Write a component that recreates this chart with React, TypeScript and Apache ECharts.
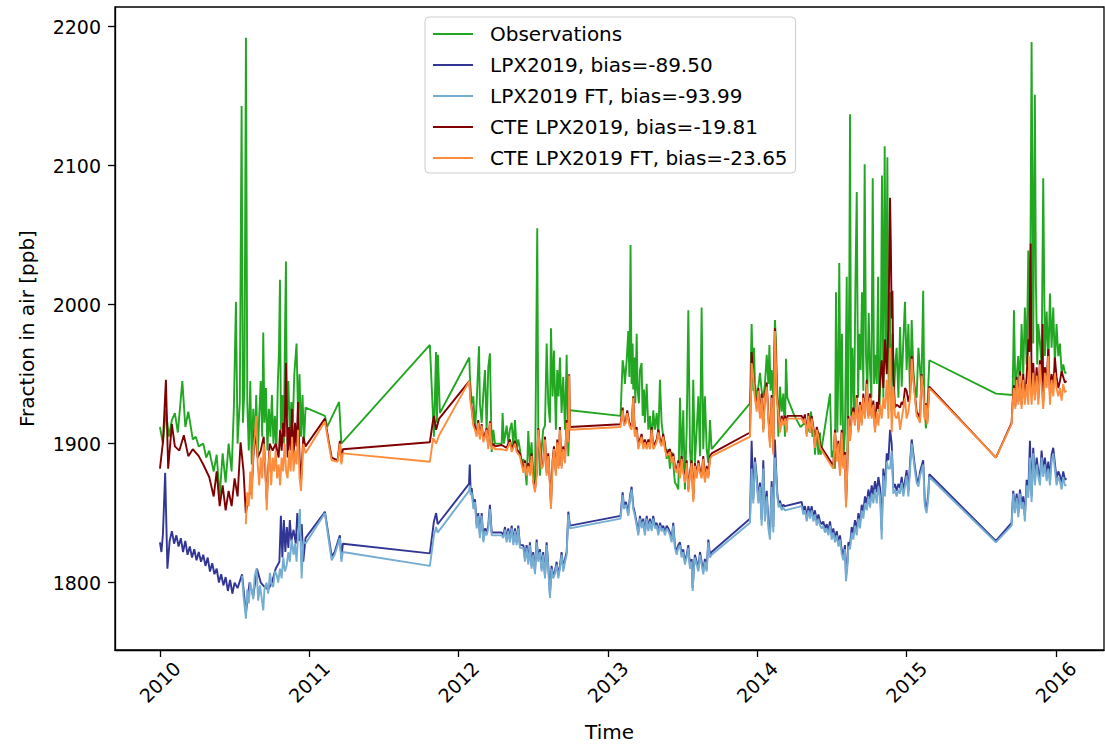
import React, { useEffect, useRef } from "react";
import * as echarts from "echarts";

const yearTicks = [2010, 2011, 2012, 2013, 2014, 2015, 2016];
const valueTicks = [1800, 1900, 2000, 2100, 2200];
const seriesNames = [
  "Observations",
  "LPX2019, bias=-89.50",
  "LPX2019 FT, bias=-93.99",
  "CTE LPX2019, bias=-19.81",
  "CTE LPX2019 FT, bias=-23.65",
];

const obsData = [
  [2010.0,1912],[2010.02,1900],[2010.04,1924],[2010.06,1905],[2010.08,1917],[2010.1,1922],[2010.12,1908],[2010.15,1945],[2010.17,1912],[2010.19,1923],[2010.22,1903],[2010.24,1905],[2010.26,1898],[2010.29,1900],[2010.31,1890],[2010.33,1895],[2010.36,1880],[2010.38,1892],[2010.4,1862],[2010.42,1893],[2010.44,1872],[2010.46,1900],[2010.48,1880],[2010.495,1925],[2010.509,2002],[2010.52,1900],[2010.535,1930],[2010.547,2143],[2010.556,1915],[2010.566,1940],[2010.576,2192],[2010.585,1930],[2010.595,1895],[2010.605,1945],[2010.615,1885],[2010.625,1925],[2010.635,1900],[2010.645,1935],[2010.655,1890],[2010.665,1920],[2010.675,1945],[2010.685,1905],[2010.692,1980],[2010.7,1915],[2010.71,1940],[2010.72,1895],[2010.73,1925],[2010.74,1905],[2010.75,1935],[2010.76,1900],[2010.77,1920],[2010.78,1895],[2010.79,1945],[2010.797,1965],[2010.804,2018],[2010.81,1910],[2010.82,1935],[2010.83,1900],[2010.837,1975],[2010.844,2031],[2010.85,1920],[2010.86,1945],[2010.87,1905],[2010.88,1930],[2010.89,1915],[2010.9,1950],[2010.915,1972],[2010.925,1920],[2010.935,1950],[2010.945,1905],[2010.955,1935],[2010.965,1900],[2010.975,1926],
  [2011.105,1920],[2011.12,1912],[2011.2,1930],[2011.215,1900],
  [2011.808,1971],[2011.835,1905],[2011.849,1966],[2011.855,1915],[2011.862,1964],[2011.875,1922],
  [2012.072,1962],[2012.076,1948],[2012.088,1929],[2012.099,1934],[2012.11,1910],[2012.121,1929],[2012.137,1970],[2012.143,1929],[2012.155,1915],[2012.166,1936],[2012.177,1953],[2012.188,1910],[2012.199,1955],[2012.21,1965],[2012.222,1894],[2012.233,1910],[2012.244,1900],[2012.289,1900],[2012.295,1922],[2012.304,1900],[2012.322,1913],[2012.333,1901],[2012.344,1910],[2012.356,1915],[2012.367,1898],[2012.378,1917],[2012.389,1896],[2012.4,1903],[2012.411,1896],[2012.422,1886],[2012.434,1889],[2012.445,1884],[2012.456,1870],[2012.467,1909],[2012.478,1886],[2012.489,1901],[2012.5,1879],[2012.512,1870],[2012.527,2055],[2012.534,1910],[2012.545,1877],[2012.556,1896],[2012.567,1910],[2012.579,1913],[2012.59,1972],[2012.601,1929],[2012.612,1915],[2012.619,1983],[2012.63,1934],[2012.639,1967],[2012.652,1910],[2012.661,1953],[2012.67,1934],[2012.679,1962],[2012.69,1922],[2012.701,1948],[2012.713,1910],[2012.724,1964],[2012.735,1891],[2012.746,1924],
  [2013.085,1920],[2013.099,1960],[2013.108,1953],[2013.114,1943],[2013.126,1960],[2013.137,1981],[2013.144,1948],[2013.152,2043],[2013.159,1943],[2013.166,1972],[2013.17,1939],[2013.177,1962],[2013.184,1929],[2013.193,1979],[2013.199,1939],[2013.208,1929],[2013.215,1953],[2013.226,1958],[2013.233,1920],[2013.242,1939],[2013.248,1915],[2013.26,1943],[2013.271,1910],[2013.282,1920],[2013.293,1901],[2013.304,1924],[2013.315,1910],[2013.327,1922],[2013.338,1905],[2013.349,1946],[2013.36,1915],[2013.371,1905],[2013.382,1901],[2013.394,1889],[2013.405,1896],[2013.416,1882],[2013.427,1894],[2013.438,1886],[2013.449,1872],[2013.461,1870],[2013.472,1867],[2013.483,1933],[2013.494,1886],[2013.505,1924],[2013.516,1867],[2013.528,1910],[2013.539,1996],[2013.55,1896],[2013.561,1877],[2013.572,1946],[2013.583,1886],[2013.595,1910],[2013.606,1934],[2013.617,1891],[2013.628,1998],[2013.639,1896],[2013.65,1934],[2013.662,1896],[2013.673,1886],[2013.684,1917],[2013.695,1896],
  [2013.952,1929],[2013.963,1986],[2013.974,1938],[2013.979,1969],[2013.985,1943],[2013.997,1933],[2014.008,1941],[2014.019,1951],[2014.03,1938],[2014.041,1933],[2014.052,1943],[2014.064,1964],[2014.075,1943],[2014.082,1971],[2014.09,1938],[2014.097,1953],[2014.108,1933],[2014.119,1989],[2014.126,1974],[2014.131,1951],[2014.142,1905],[2014.153,1941],[2014.164,1923],[2014.175,1936],[2014.186,1905],[2014.193,1961],[2014.202,1933],[2014.25,1920],[2014.29,1912],[2014.32,1915],[2014.354,1908],[2014.361,1923],[2014.37,1905],[2014.381,1910],[2014.387,1892],[2014.399,1910],[2014.41,1892],[2014.421,1908],[2014.425,1892],
  [2014.488,1936],[2014.499,1890],[2014.51,1895],[2014.521,1882],[2014.528,2009],[2014.537,1908],[2014.544,1956],[2014.55,2030],[2014.559,1913],[2014.568,1979],[2014.577,1887],[2014.588,1908],[2014.6,2020],[2014.606,1892],[2014.617,2014],[2014.622,2137],[2014.629,1920],[2014.638,1969],[2014.649,1918],[2014.658,2014],[2014.667,2081],[2014.676,1933],[2014.684,1979],[2014.693,1953],[2014.702,2009],[2014.711,1938],[2014.72,2101],[2014.729,1964],[2014.738,1938],[2014.747,1994],[2014.756,1953],[2014.765,1933],[2014.774,2091],[2014.783,1943],[2014.792,1964],[2014.801,1943],[2014.81,2020],[2014.818,1923],[2014.827,1948],[2014.836,2093],[2014.845,1933],[2014.854,2114],[2014.863,1958],[2014.872,2106],[2014.881,1933],[2014.89,2009],[2014.899,1923],[2014.908,1979],[2014.917,1938],[2014.926,1958],[2014.934,1969],[2014.946,1933],[2014.957,1984],[2014.968,1941],[2014.979,1974],[2014.99,2002],[2015.001,1953],[2015.013,1986],[2015.024,1933],[2015.035,1989],[2015.046,1953],[2015.057,1938],[2015.068,1933],[2015.08,1969],[2015.091,1953],[2015.1,1940],[2015.112,2010],[2015.12,1930],[2015.13,1911],[2015.14,1925],[2015.153,1960],
  [2015.599,1936],[2015.711,1935],[2015.72,1996],[2015.729,1940],[2015.738,1949],[2015.749,1963],[2015.76,1940],[2015.771,1986],[2015.782,1949],[2015.793,1998],[2015.805,1957],[2015.816,2039],[2015.827,1966],[2015.838,2189],[2015.849,1972],[2015.86,2151],[2015.867,2015],[2015.876,1957],[2015.883,1986],[2015.894,1972],[2015.905,1957],[2015.916,2091],[2015.927,1963],[2015.939,1995],[2015.95,1957],[2015.961,2008],[2015.972,1969],[2015.983,1998],[2015.994,1957],[2016.005,1986],[2016.017,1963],[2016.028,1972],[2016.039,1951],[2016.05,1957],[2016.061,1951],[2016.072,1951],
];

const lpxData = [
  [2010.0,1829],[2010.01,1822],[2010.02,1835],[2010.035,1879],[2010.05,1810],[2010.065,1830],[2010.08,1837],[2010.095,1828],[2010.11,1834],[2010.125,1826],[2010.14,1832],[2010.155,1822],[2010.17,1830],[2010.185,1820],[2010.2,1826],[2010.215,1818],[2010.23,1824],[2010.245,1816],[2010.26,1822],[2010.275,1815],[2010.29,1820],[2010.305,1812],[2010.32,1818],[2010.335,1808],[2010.35,1814],[2010.365,1806],[2010.38,1810],[2010.395,1800],[2010.41,1806],[2010.425,1798],[2010.44,1804],[2010.455,1794],[2010.47,1802],[2010.485,1792],[2010.5,1800],[2010.52,1796],[2010.55,1806],[2010.576,1778],[2010.6,1800],[2010.625,1790],[2010.65,1810],[2010.675,1800],[2010.7,1797],[2010.725,1795],[2010.75,1800],[2010.775,1810],[2010.8,1815],[2010.81,1848],[2010.82,1818],[2010.83,1845],[2010.84,1822],[2010.85,1840],[2010.86,1825],[2010.87,1845],[2010.88,1830],[2010.895,1838],[2010.91,1828],[2010.92,1850],[2010.935,1830],[2010.95,1842],[2010.96,1815],[2010.975,1832],
  [2011.105,1851],[2011.15,1819],[2011.17,1822],[2011.205,1834],[2011.215,1817],[2011.225,1828],[2011.808,1821],[2011.835,1844],[2011.85,1850],[2011.86,1842],[2012.07,1871],[2012.075,1885],
  [2012.081,1866],[2012.088,1868],[2012.099,1856],[2012.11,1860],[2012.121,1842],[2012.132,1850],[2012.143,1835],[2012.155,1850],[2012.166,1831],[2012.177,1839],[2012.188,1836],[2012.199,1841],[2012.21,1856],[2012.222,1836],[2012.233,1836],[2012.289,1836],[2012.3,1834],[2012.311,1840],[2012.322,1831],[2012.333,1839],[2012.344,1831],[2012.356,1841],[2012.367,1829],[2012.378,1839],[2012.389,1829],[2012.4,1841],[2012.411,1827],[2012.434,1827],[2012.445,1817],[2012.456,1827],[2012.467,1815],[2012.478,1829],[2012.489,1812],[2012.5,1822],[2012.512,1808],[2012.523,1831],[2012.534,1817],[2012.545,1824],[2012.556,1810],[2012.567,1822],[2012.579,1805],[2012.59,1829],[2012.601,1812],[2012.612,1792],[2012.623,1812],[2012.634,1805],[2012.645,1808],[2012.657,1815],[2012.668,1805],[2012.679,1812],[2012.69,1822],[2012.701,1810],[2012.713,1817],[2012.724,1822],[2012.735,1851],[2012.746,1841],
  [2013.085,1848],[2013.099,1865],[2013.108,1855],[2013.121,1858],[2013.137,1850],[2013.148,1862],[2013.159,1869],[2013.17,1855],[2013.181,1850],[2013.193,1843],[2013.204,1836],[2013.215,1848],[2013.226,1841],[2013.237,1846],[2013.248,1836],[2013.26,1848],[2013.271,1839],[2013.282,1846],[2013.293,1839],[2013.304,1848],[2013.315,1841],[2013.327,1843],[2013.338,1836],[2013.349,1843],[2013.36,1839],[2013.371,1841],[2013.382,1836],[2013.394,1841],[2013.405,1839],[2013.416,1836],[2013.427,1831],[2013.438,1843],[2013.449,1827],[2013.461,1822],[2013.472,1827],[2013.483,1829],[2013.494,1820],[2013.505,1824],[2013.516,1815],[2013.528,1820],[2013.539,1827],[2013.55,1812],[2013.561,1817],[2013.568,1796],[2013.577,1812],[2013.583,1820],[2013.595,1815],[2013.606,1810],[2013.617,1822],[2013.628,1815],[2013.639,1808],[2013.65,1817],[2013.662,1810],[2013.673,1831],[2013.684,1820],[2013.695,1822],[2013.952,1846],
  [2013.963,1902],[2013.974,1860],[2013.985,1890],[2013.997,1876],[2014.008,1860],[2014.019,1872],[2014.03,1845],[2014.041,1888],[2014.052,1848],[2014.064,1866],[2014.075,1843],[2014.086,1835],[2014.097,1873],[2014.108,1840],[2014.119,1903],[2014.126,1884],[2014.135,1864],[2014.144,1856],[2014.153,1859],[2014.164,1854],[2014.175,1856],[2014.186,1855],[2014.298,1858],[2014.309,1852],[2014.32,1855],[2014.332,1847],[2014.343,1855],[2014.354,1849],[2014.365,1855],[2014.376,1847],[2014.387,1852],[2014.399,1844],[2014.41,1849],[2014.421,1844],[2014.432,1842],[2014.443,1844],[2014.454,1839],[2014.466,1842],[2014.477,1837],[2014.488,1844],[2014.499,1834],[2014.51,1839],[2014.521,1832],[2014.533,1837],[2014.544,1829],[2014.555,1834],[2014.566,1824],[2014.577,1819],[2014.588,1827],[2014.595,1805],[2014.604,1814],[2014.611,1829],[2014.622,1827],[2014.633,1840],[2014.644,1835],[2014.655,1845],[2014.667,1838],[2014.678,1850],[2014.689,1843],[2014.7,1856],[2014.711,1851],[2014.722,1862],[2014.734,1857],[2014.745,1867],[2014.756,1860],[2014.767,1870],[2014.778,1863],[2014.789,1873],[2014.801,1865],[2014.812,1876],[2014.823,1868],[2014.834,1838],[2014.845,1882],[2014.856,1868],[2014.868,1893],[2014.879,1888],[2014.89,1910],[2014.901,1900],[2014.912,1868],[2014.923,1871],[2014.934,1866],[2014.946,1871],[2014.957,1868],[2014.968,1876],[2014.979,1866],[2014.99,1873],[2015.001,1881],[2015.013,1866],[2015.024,1886],[2015.035,1903],[2015.046,1893],[2015.057,1883],[2015.068,1875],[2015.08,1872],[2015.091,1880],[2015.112,1888],[2015.123,1858],[2015.135,1853],[2015.146,1864],[2015.153,1878],[2015.599,1830],
  [2015.704,1843],[2015.715,1866],[2015.726,1853],[2015.738,1864],[2015.749,1850],[2015.76,1867],[2015.771,1856],[2015.782,1862],[2015.793,1848],[2015.805,1874],[2015.816,1866],[2015.827,1902],[2015.838,1862],[2015.849,1897],[2015.86,1875],[2015.872,1890],[2015.883,1880],[2015.894,1875],[2015.905,1895],[2015.916,1880],[2015.927,1890],[2015.939,1878],[2015.95,1887],[2015.961,1875],[2015.972,1892],[2015.983,1897],[2015.994,1886],[2016.005,1875],[2016.017,1880],[2016.028,1877],[2016.039,1872],[2016.05,1880],[2016.061,1874],[2016.072,1875],
];

const lpxFtData = [
  [2010.55,1805],[2010.56,1790],[2010.576,1774],[2010.585,1795],[2010.595,1785],[2010.605,1800],[2010.614,1795],[2010.625,1788],[2010.635,1805],[2010.647,1810],[2010.658,1787],[2010.67,1798],[2010.68,1790],[2010.692,1780],[2010.7,1795],[2010.714,1800],[2010.725,1792],[2010.737,1807],[2010.748,1798],[2010.759,1797],[2010.77,1808],[2010.781,1806],[2010.792,1800],[2010.804,1810],[2010.815,1803],[2010.826,1818],[2010.837,1808],[2010.848,1812],[2010.86,1822],[2010.87,1815],[2010.882,1831],[2010.895,1820],[2010.905,1828],[2010.915,1815],[2010.926,1835],[2010.9375,1853],[2010.943,1825],[2010.949,1803],[2010.96,1830],[2010.975,1828],
  [2011.105,1850],[2011.15,1816],[2011.17,1820],[2011.205,1832],[2011.215,1815],[2011.225,1822],[2011.808,1812],[2011.835,1834],[2011.85,1840],[2011.86,1836],[2012.07,1866],[2012.075,1870],
  [2012.081,1863],[2012.088,1865],[2012.099,1853],[2012.11,1858],[2012.121,1839],[2012.132,1848],[2012.143,1832],[2012.155,1848],[2012.166,1829],[2012.177,1837],[2012.188,1834],[2012.199,1839],[2012.21,1853],[2012.222,1834],[2012.233,1834],[2012.289,1834],[2012.3,1832],[2012.311,1838],[2012.322,1829],[2012.333,1837],[2012.344,1829],[2012.356,1839],[2012.367,1827],[2012.378,1837],[2012.389,1827],[2012.4,1839],[2012.411,1825],[2012.434,1825],[2012.445,1815],[2012.456,1825],[2012.467,1813],[2012.478,1827],[2012.489,1810],[2012.5,1820],[2012.512,1806],[2012.523,1829],[2012.534,1815],[2012.545,1822],[2012.556,1808],[2012.567,1820],[2012.579,1803],[2012.59,1827],[2012.601,1810],[2012.612,1789],[2012.623,1810],[2012.634,1803],[2012.645,1806],[2012.657,1813],[2012.668,1803],[2012.679,1810],[2012.69,1820],[2012.701,1808],[2012.713,1815],[2012.724,1820],[2012.735,1849],[2012.746,1839],
  [2013.085,1846],[2013.099,1863],[2013.108,1853],[2013.121,1856],[2013.137,1848],[2013.148,1860],[2013.159,1867],[2013.17,1853],[2013.181,1848],[2013.193,1841],[2013.204,1834],[2013.215,1846],[2013.226,1839],[2013.237,1844],[2013.248,1834],[2013.26,1846],[2013.271,1837],[2013.282,1844],[2013.293,1837],[2013.304,1846],[2013.315,1839],[2013.327,1841],[2013.338,1834],[2013.349,1841],[2013.36,1837],[2013.371,1839],[2013.382,1834],[2013.394,1839],[2013.405,1837],[2013.416,1834],[2013.427,1829],[2013.438,1841],[2013.449,1825],[2013.461,1820],[2013.472,1825],[2013.483,1827],[2013.494,1818],[2013.505,1822],[2013.516,1813],[2013.528,1818],[2013.539,1825],[2013.55,1810],[2013.561,1815],[2013.568,1794],[2013.577,1810],[2013.583,1818],[2013.595,1813],[2013.606,1808],[2013.617,1820],[2013.628,1813],[2013.639,1806],[2013.65,1815],[2013.662,1808],[2013.673,1829],[2013.684,1818],[2013.695,1820],[2013.952,1843],
  [2013.963,1882],[2013.974,1857],[2013.985,1887],[2013.997,1872],[2014.008,1857],[2014.019,1869],[2014.03,1841],[2014.041,1882],[2014.052,1844],[2014.064,1862],[2014.075,1839],[2014.086,1831],[2014.097,1869],[2014.108,1836],[2014.119,1890],[2014.126,1880],[2014.135,1862],[2014.144,1854],[2014.153,1857],[2014.164,1852],[2014.175,1854],[2014.186,1852],[2014.298,1855],[2014.309,1849],[2014.32,1852],[2014.332,1844],[2014.343,1852],[2014.354,1846],[2014.365,1852],[2014.376,1844],[2014.387,1849],[2014.399,1841],[2014.41,1846],[2014.421,1841],[2014.432,1839],[2014.443,1841],[2014.454,1836],[2014.466,1839],[2014.477,1834],[2014.488,1841],[2014.499,1831],[2014.51,1836],[2014.521,1829],[2014.533,1834],[2014.544,1826],[2014.555,1831],[2014.566,1821],[2014.577,1816],[2014.588,1824],[2014.595,1801],[2014.604,1811],[2014.611,1826],[2014.622,1824],[2014.633,1836],[2014.644,1831],[2014.655,1841],[2014.667,1834],[2014.678,1846],[2014.689,1839],[2014.7,1852],[2014.711,1846],[2014.722,1857],[2014.734,1852],[2014.745,1862],[2014.756,1854],[2014.767,1864],[2014.778,1857],[2014.789,1867],[2014.801,1857],[2014.812,1869],[2014.823,1862],[2014.834,1831],[2014.845,1877],[2014.856,1862],[2014.868,1887],[2014.879,1882],[2014.89,1882],[2014.901,1895],[2014.912,1864],[2014.923,1867],[2014.934,1862],[2014.946,1867],[2014.957,1864],[2014.968,1872],[2014.979,1862],[2014.99,1869],[2015.001,1877],[2015.013,1862],[2015.024,1882],[2015.035,1900],[2015.046,1890],[2015.057,1880],[2015.068,1872],[2015.08,1869],[2015.091,1877],[2015.112,1885],[2015.123,1855],[2015.135,1850],[2015.146,1861],[2015.153,1876],[2015.599,1829],
  [2015.704,1841],[2015.715,1864],[2015.726,1850],[2015.738,1861],[2015.749,1847],[2015.76,1864],[2015.771,1853],[2015.782,1858],[2015.793,1844],[2015.805,1870],[2015.816,1861],[2015.827,1890],[2015.838,1858],[2015.849,1893],[2015.86,1870],[2015.872,1885],[2015.883,1876],[2015.894,1870],[2015.905,1890],[2015.916,1876],[2015.927,1885],[2015.939,1873],[2015.95,1882],[2015.961,1870],[2015.972,1887],[2015.983,1893],[2015.994,1882],[2016.005,1870],[2016.017,1876],[2016.028,1873],[2016.039,1867],[2016.05,1876],[2016.061,1870],[2016.072,1870],
];

const cteData = [
  [2010.0,1882],[2010.02,1901],[2010.04,1946],[2010.055,1882],[2010.08,1914],[2010.1,1898],[2010.13,1895],[2010.16,1906],[2010.19,1891],[2010.22,1896],[2010.26,1891],[2010.29,1885],[2010.33,1876],[2010.36,1862],[2010.38,1880],[2010.4,1855],[2010.42,1870],[2010.44,1852],[2010.46,1866],[2010.48,1855],[2010.5,1875],[2010.52,1862],[2010.54,1901],[2010.56,1880],[2010.575,1850],[2010.595,1862],[2010.615,1868],[2010.635,1910],[2010.655,1890],[2010.675,1895],[2010.695,1905],[2010.715,1860],[2010.735,1900],[2010.755,1895],[2010.775,1900],[2010.795,1890],[2010.805,1910],[2010.815,1895],[2010.825,1915],[2010.835,1905],[2010.844,1958],[2010.855,1890],[2010.865,1912],[2010.875,1895],[2010.885,1925],[2010.895,1890],[2010.905,1915],[2010.915,1898],[2010.925,1930],[2010.935,1890],[2010.945,1872],[2010.96,1905],[2010.975,1898],
  [2011.105,1918],[2011.13,1902],[2011.15,1890],[2011.19,1888],[2011.205,1902],[2011.215,1887],[2011.225,1896],[2011.808,1901],[2011.825,1914],[2011.835,1920],[2011.85,1910],[2011.87,1918],
  [2012.072,1945],[2012.081,1932],[2012.088,1926],[2012.099,1915],[2012.11,1912],[2012.121,1907],[2012.132,1917],[2012.143,1905],[2012.155,1914],[2012.166,1903],[2012.177,1907],[2012.188,1911],[2012.199,1898],[2012.21,1916],[2012.222,1898],[2012.233,1900],[2012.244,1898],[2012.289,1899],[2012.322,1897],[2012.344,1903],[2012.356,1896],[2012.378,1902],[2012.389,1896],[2012.411,1893],[2012.434,1881],[2012.445,1888],[2012.456,1879],[2012.467,1886],[2012.478,1879],[2012.489,1893],[2012.5,1874],[2012.512,1867],[2012.523,1879],[2012.534,1911],[2012.545,1898],[2012.556,1884],[2012.567,1886],[2012.579,1905],[2012.59,1879],[2012.601,1893],[2012.612,1872],[2012.619,1856],[2012.63,1888],[2012.639,1898],[2012.652,1879],[2012.661,1903],[2012.67,1884],[2012.679,1912],[2012.69,1884],[2012.701,1898],[2012.713,1888],[2012.724,1917],[2012.735,1903],[2012.741,1950],[2012.746,1912],
  [2013.085,1914],[2013.099,1926],[2013.108,1915],[2013.121,1917],[2013.13,1924],[2013.144,1915],[2013.159,1912],[2013.17,1934],[2013.181,1907],[2013.193,1912],[2013.204,1898],[2013.215,1903],[2013.226,1907],[2013.237,1898],[2013.248,1903],[2013.26,1898],[2013.271,1903],[2013.282,1898],[2013.293,1912],[2013.304,1898],[2013.315,1900],[2013.327,1903],[2013.338,1910],[2013.349,1903],[2013.36,1900],[2013.371,1907],[2013.382,1898],[2013.394,1893],[2013.416,1896],[2013.427,1888],[2013.438,1893],[2013.449,1884],[2013.461,1881],[2013.472,1888],[2013.483,1877],[2013.494,1891],[2013.505,1881],[2013.516,1874],[2013.528,1888],[2013.539,1867],[2013.55,1879],[2013.561,1888],[2013.572,1860],[2013.583,1886],[2013.595,1877],[2013.606,1888],[2013.617,1881],[2013.628,1877],[2013.639,1891],[2013.65,1874],[2013.662,1884],[2013.673,1877],[2013.684,1891],[2013.695,1893],[2013.952,1908],
  [2013.963,1966],[2013.97,1955],[2013.979,1944],[2013.985,1935],[2013.997,1926],[2014.008,1940],[2014.019,1920],[2014.03,1936],[2014.041,1910],[2014.052,1935],[2014.064,1944],[2014.075,1920],[2014.086,1900],[2014.097,1935],[2014.108,1895],[2014.119,1983],[2014.126,1960],[2014.131,1935],[2014.142,1925],[2014.153,1910],[2014.164,1920],[2014.175,1915],[2014.186,1920],[2014.198,1910],[2014.202,1920],[2014.298,1920],[2014.309,1917],[2014.32,1921],[2014.332,1907],[2014.343,1922],[2014.354,1910],[2014.365,1920],[2014.376,1912],[2014.387,1899],[2014.399,1912],[2014.41,1907],[2014.421,1899],[2014.51,1884],[2014.521,1910],[2014.533,1889],[2014.544,1902],[2014.555,1879],[2014.566,1910],[2014.577,1884],[2014.588,1894],[2014.595,1856],[2014.604,1884],[2014.611,1920],[2014.622,1904],[2014.633,1920],[2014.644,1926],[2014.655,1915],[2014.667,1935],[2014.678,1910],[2014.689,1930],[2014.7,1915],[2014.711,1936],[2014.722,1920],[2014.734,1946],[2014.745,1920],[2014.756,1936],[2014.767,1920],[2014.778,1931],[2014.789,1910],[2014.801,1930],[2014.812,1925],[2014.823,1945],[2014.834,1960],[2014.845,1940],[2014.856,1975],[2014.868,1950],[2014.879,1985],[2014.885,2030],[2014.89,2077],[2014.895,2045],[2014.901,1990],[2014.906,2010],[2014.912,1950],[2014.923,1926],[2014.934,1928],[2014.946,1927],[2014.957,1926],[2014.968,1930],[2014.979,1928],[2014.99,1940],[2015.001,1938],[2015.013,1930],[2015.024,1936],[2015.035,1963],[2015.046,1948],[2015.057,1935],[2015.068,1923],[2015.08,1921],[2015.091,1918],[2015.101,1950],[2015.112,1941],[2015.123,1918],[2015.13,1929],[2015.139,1915],[2015.153,1941],[2015.599,1890],
  [2015.704,1915],[2015.711,1930],[2015.72,1942],[2015.729,1927],[2015.738,1948],[2015.749,1930],[2015.76,1952],[2015.771,1928],[2015.782,1950],[2015.793,1932],[2015.805,1948],[2015.816,1975],[2015.822,1966],[2015.832,2044],[2015.838,1940],[2015.849,1958],[2015.86,1935],[2015.872,1955],[2015.883,1932],[2015.894,1960],[2015.905,1945],[2015.912,1986],[2015.916,1930],[2015.927,1955],[2015.939,1945],[2015.95,1968],[2015.961,1935],[2015.972,1950],[2015.983,1940],[2015.994,1962],[2016.005,1948],[2016.017,1940],[2016.028,1945],[2016.039,1952],[2016.05,1948],[2016.061,1944],[2016.072,1945],
];

const cteFtData = [
  [2010.575,1842],[2010.585,1865],[2010.595,1855],[2010.605,1880],[2010.615,1860],[2010.625,1895],[2010.635,1905],[2010.645,1920],[2010.655,1885],[2010.665,1870],[2010.675,1890],[2010.685,1875],[2010.695,1900],[2010.705,1885],[2010.715,1852],[2010.725,1880],[2010.735,1895],[2010.745,1870],[2010.755,1890],[2010.765,1880],[2010.775,1895],[2010.785,1875],[2010.795,1885],[2010.805,1870],[2010.815,1890],[2010.825,1880],[2010.835,1900],[2010.845,1880],[2010.855,1875],[2010.865,1895],[2010.875,1880],[2010.885,1905],[2010.895,1880],[2010.905,1895],[2010.915,1885],[2010.925,1910],[2010.935,1875],[2010.945,1866],[2010.96,1900],[2010.975,1893],
  [2011.105,1916],[2011.13,1900],[2011.15,1888],[2011.19,1887],[2011.205,1900],[2011.215,1885],[2011.225,1893],[2011.808,1887],[2011.83,1904],[2011.85,1900],[2011.87,1906],
  [2012.072,1945],[2012.081,1929],[2012.088,1924],[2012.099,1913],[2012.11,1910],[2012.121,1905],[2012.132,1915],[2012.143,1903],[2012.155,1913],[2012.166,1901],[2012.177,1905],[2012.188,1910],[2012.199,1896],[2012.21,1915],[2012.222,1896],[2012.233,1898],[2012.244,1896],[2012.289,1896],[2012.322,1895],[2012.344,1901],[2012.356,1894],[2012.378,1900],[2012.389,1894],[2012.411,1891],[2012.434,1879],[2012.445,1886],[2012.456,1877],[2012.467,1884],[2012.478,1877],[2012.489,1891],[2012.5,1872],[2012.512,1865],[2012.523,1877],[2012.534,1910],[2012.545,1896],[2012.556,1882],[2012.567,1884],[2012.579,1903],[2012.59,1877],[2012.601,1891],[2012.612,1870],[2012.619,1853],[2012.63,1886],[2012.639,1896],[2012.652,1877],[2012.661,1901],[2012.67,1882],[2012.679,1910],[2012.69,1882],[2012.701,1896],[2012.713,1886],[2012.724,1915],[2012.735,1901],[2012.741,1949],[2012.746,1910],
  [2013.085,1912],[2013.099,1924],[2013.108,1913],[2013.121,1915],[2013.13,1922],[2013.144,1913],[2013.159,1910],[2013.17,1933],[2013.181,1905],[2013.193,1910],[2013.204,1896],[2013.215,1901],[2013.226,1905],[2013.237,1896],[2013.248,1901],[2013.26,1896],[2013.271,1901],[2013.282,1896],[2013.293,1910],[2013.304,1896],[2013.315,1898],[2013.327,1901],[2013.338,1908],[2013.349,1901],[2013.36,1898],[2013.371,1905],[2013.382,1896],[2013.394,1891],[2013.416,1894],[2013.427,1886],[2013.438,1891],[2013.449,1882],[2013.461,1879],[2013.472,1886],[2013.483,1875],[2013.494,1889],[2013.505,1879],[2013.516,1872],[2013.528,1886],[2013.539,1865],[2013.55,1877],[2013.561,1886],[2013.572,1858],[2013.583,1884],[2013.595,1875],[2013.606,1886],[2013.617,1879],[2013.628,1875],[2013.639,1889],[2013.65,1872],[2013.662,1882],[2013.673,1875],[2013.684,1889],[2013.695,1891],[2013.952,1905],
  [2013.963,1958],[2013.97,1953],[2013.979,1941],[2013.985,1933],[2013.997,1923],[2014.008,1938],[2014.019,1918],[2014.03,1933],[2014.041,1908],[2014.052,1933],[2014.064,1941],[2014.075,1918],[2014.086,1897],[2014.097,1933],[2014.108,1892],[2014.119,1981],[2014.126,1958],[2014.131,1933],[2014.142,1923],[2014.153,1908],[2014.164,1918],[2014.175,1913],[2014.186,1918],[2014.198,1908],[2014.202,1918],[2014.298,1918],[2014.309,1915],[2014.32,1918],[2014.332,1905],[2014.343,1920],[2014.354,1908],[2014.365,1918],[2014.376,1910],[2014.387,1897],[2014.399,1910],[2014.41,1905],[2014.421,1897],[2014.51,1882],[2014.521,1908],[2014.533,1887],[2014.544,1900],[2014.555,1877],[2014.566,1908],[2014.577,1882],[2014.588,1892],[2014.595,1854],[2014.604,1882],[2014.611,1918],[2014.622,1902],[2014.633,1918],[2014.644,1923],[2014.655,1913],[2014.667,1933],[2014.678,1908],[2014.689,1928],[2014.7,1913],[2014.711,1933],[2014.722,1918],[2014.734,1943],[2014.745,1918],[2014.756,1933],[2014.767,1918],[2014.778,1928],[2014.789,1908],[2014.801,1923],[2014.812,1913],[2014.823,1928],[2014.834,1918],[2014.845,1933],[2014.856,1925],[2014.868,1946],[2014.879,1918],[2014.89,1969],[2014.901,1908],[2014.912,1941],[2014.923,1920],[2014.934,1918],[2014.946,1923],[2014.957,1910],[2014.968,1918],[2014.979,1925],[2014.99,1933],[2015.001,1918],[2015.013,1923],[2015.024,1933],[2015.035,1961],[2015.046,1946],[2015.057,1933],[2015.068,1920],[2015.08,1918],[2015.091,1915],[2015.101,1949],[2015.112,1940],[2015.123,1917],[2015.13,1928],[2015.139,1914],[2015.153,1940],[2015.599,1890],
  [2015.704,1914],[2015.711,1928],[2015.72,1940],[2015.729,1925],[2015.738,1946],[2015.749,1928],[2015.76,1949],[2015.771,1925],[2015.782,1946],[2015.793,1928],[2015.805,1943],[2015.816,1928],[2015.822,1963],[2015.831,1940],[2015.838,1928],[2015.849,1951],[2015.86,1931],[2015.872,1949],[2015.883,1928],[2015.894,1957],[2015.905,1940],[2015.916,1925],[2015.927,1951],[2015.939,1940],[2015.95,1963],[2015.961,1928],[2015.972,1946],[2015.983,1934],[2015.994,1951],[2016.005,1940],[2016.017,1934],[2016.028,1940],[2016.039,1931],[2016.05,1943],[2016.061,1937],[2016.072,1938],
];

const colors = ["#22a722", "#313695", "#74add1", "#7f0000", "#fd8d3c"];
const FONT = "DejaVu Sans";

export default function App() {
  const ref = useRef<HTMLDivElement>(null);
  useEffect(() => {
    if (!ref.current) return;
    const chart = echarts.init(ref.current, undefined, { renderer: "svg" });
    const datas = [obsData, lpxData, lpxFtData, cteData, cteFtData];
    chart.setOption({
      animation: false,
      backgroundColor: "#ffffff",
      grid: {
        left: 115,
        right: 1,
        top: 7,
        bottom: 91,
        show: true,
        borderColor: "#000",
        borderWidth: 1.3,
        backgroundColor: "transparent",
      },
      legend: {
        orient: "vertical",
        left: 425,
        top: 17,
        padding: [7, 8, 5, 8],
        itemGap: 11,
        itemWidth: 40,
        itemHeight: 2,
        icon: "rect",
        borderColor: "#cccccc",
        borderWidth: 1,
        borderRadius: 4,
        backgroundColor: "rgba(255,255,255,0.8)",
        textStyle: {
          fontFamily: FONT,
          fontSize: 20,
          color: "#000",
          lineHeight: 20,
          padding: [0, 0, 0, 12],
        },
        data: seriesNames,
      },
      xAxis: {
        type: "value",
        min: 2009.699,
        max: 2016.323,
        name: "Time",
        nameLocation: "middle",
        nameGap: 72,
        nameTextStyle: { fontFamily: FONT, fontSize: 20, color: "#000" },
        axisLine: { show: true, onZero: false, lineStyle: { color: "#000", width: 1.3 } },
        axisTick: {
          show: true,
          customValues: yearTicks,
          length: 7,
          lineStyle: { color: "#000", width: 1.3 },
        },
        axisLabel: {
          customValues: yearTicks,
          rotate: 45,
          align: "center",
          verticalAlign: "middle",
          margin: 32,
          fontFamily: FONT,
          fontSize: 19,
          color: "#000",
          formatter: (v: number) => String(Math.round(v)),
        },
        splitLine: { show: false },
      },
      yAxis: {
        type: "value",
        min: 1751.5,
        max: 2214.2,
        name: "Fraction in air [ppb]",
        nameLocation: "middle",
        nameGap: 78,
        nameTextStyle: { fontFamily: FONT, fontSize: 20, color: "#000" },
        axisLine: { show: true, onZero: false, lineStyle: { color: "#000", width: 1.3 } },
        axisTick: {
          show: true,
          customValues: valueTicks,
          length: 7,
          lineStyle: { color: "#000", width: 1.3 },
        },
        axisLabel: {
          customValues: valueTicks,
          margin: 14,
          fontFamily: FONT,
          fontSize: 19,
          color: "#000",
          formatter: (v: number) => String(Math.round(v)),
        },
        splitLine: { show: false },
      },
      series: seriesNames.map((name, i) => ({
        name,
        type: "line",
        data: datas[i],
        symbol: "none",
        showSymbol: false,
        silent: true,
        lineStyle: { color: colors[i], width: 1.9 },
        itemStyle: { color: colors[i] },
        z: 2 + i,
      })),
    });
    return () => chart.dispose();
  }, []);
  return (
    <div
      ref={ref}
      style={{ position: "fixed", left: 0, top: 0, width: 1105, height: 747 }}
    />
  );
}
